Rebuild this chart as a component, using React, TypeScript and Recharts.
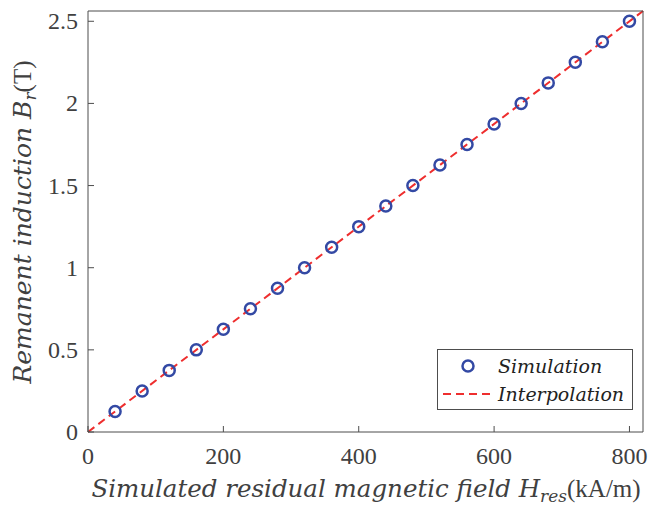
import { ComposedChart, Scatter, Line, XAxis, YAxis } from "recharts";

const simField = [40, 80, 120, 160, 200, 240, 280, 320, 360, 400, 440, 480, 520, 560, 600, 640, 680, 720, 760, 800];
const simInduction = [0.125, 0.25, 0.375, 0.5, 0.625, 0.75, 0.875, 1.0, 1.125, 1.25, 1.375, 1.5, 1.625, 1.75, 1.875, 2.0, 2.125, 2.25, 2.375, 2.5];
const fitField = [0, 820];
const fitInduction = [0, 2.5625];
const xTicks = [0, 200, 400, 600, 800];
const yTicks = [0, 0.5, 1, 1.5, 2, 2.5];

const simData = simField.map((x, i) => ({ x, y: simInduction[i] }));
const fitData = fitField.map((x, i) => ({ x, y: fitInduction[i] }));

const AXIS = "#4d4d4d";
const TEXT = "#404040";
const BLUE = "#3349a4";
const RED = "#ee2e2e";
const UPRIGHT = "Liberation Serif";
const ITALIC = "DejaVu Serif";

const BottomTick = ({ x, y, payload }: any) => (
    <g>
        <line x1={x} x2={x} y1={y - 10} y2={y - 16} stroke={AXIS} />
        <text x={x} y={y + 22} textAnchor="middle" fontSize={24} fill={TEXT} style={{ fontFamily: UPRIGHT }}>
            {payload.value}
        </text>
    </g>
);

const TopTick = ({ x, y }: any) => <line x1={x} x2={x} y1={y + 10} y2={y + 16} stroke={AXIS} />;

const LeftTick = ({ x, y, payload }: any) => (
    <g>
        <line x1={x + 10} x2={x + 16} y1={y} y2={y} stroke={AXIS} />
        <text x={x} y={y + 8} textAnchor="end" fontSize={24} fill={TEXT} style={{ fontFamily: UPRIGHT }}>
            {payload.value}
        </text>
    </g>
);

const RightTick = ({ x, y }: any) => <line x1={x - 10} x2={x - 16} y1={y} y2={y} stroke={AXIS} />;

const LegendBox = () => (
    <div
        style={{
            position: "absolute",
            left: 437,
            top: 349,
            width: 196,
            height: 61,
            border: `1px solid ${AXIS}`,
            background: "#fff",
            boxSizing: "border-box",
            fontFamily: ITALIC,
            fontStyle: "italic",
            fontSize: 19,
            color: "#222",
            paddingTop: 2,
        }}
    >
        <div style={{ display: "flex", alignItems: "center", height: 28 }}>
            <svg width={60} height={20}>
                <circle cx={30} cy={10} r={5.5} fill="none" stroke={BLUE} strokeWidth={2.5} />
            </svg>
            <span>Simulation</span>
        </div>
        <div style={{ display: "flex", alignItems: "center", height: 28 }}>
            <svg width={60} height={20}>
                <line x1={5} x2={56} y1={10} y2={10} stroke={RED} strokeWidth={2} strokeDasharray="8 5" />
            </svg>
            <span>Interpolation</span>
        </div>
    </div>
);

export default function App() {
    return (
        <div style={{ position: "absolute", left: 0, top: 0, width: 650, height: 509, background: "#fff" }}>
            <ComposedChart width={650} height={509} margin={{ top: 10, right: 6, bottom: 0, left: 0 }}>
                <XAxis
                    xAxisId="b"
                    dataKey="x"
                    type="number"
                    domain={[0, 818]}
                    ticks={xTicks}
                    height={77}
                    stroke={AXIS}
                    tickLine={false}
                    tickSize={0}
                    tickMargin={10}
                    tick={<BottomTick />}
                    label={{
                        content: () => (
                            <text x={366} y={497} textAnchor="middle" fontSize={24.5} fill={TEXT} style={{ fontFamily: ITALIC }}>
                                <tspan fontStyle="italic">Simulated residual magnetic field H</tspan>
                                <tspan fontStyle="italic" fontSize={17} dy={5}>res</tspan>
                                <tspan dy={-5} fontSize={25} style={{ fontFamily: UPRIGHT }}>(kA/m)</tspan>
                            </text>
                        ),
                    }}
                />
                <XAxis
                    xAxisId="t"
                    orientation="top"
                    dataKey="x"
                    type="number"
                    domain={[0, 818]}
                    ticks={xTicks}
                    height={1}
                    stroke={AXIS}
                    tickLine={false}
                    tickSize={0}
                    tickMargin={10}
                    tick={<TopTick />}
                />
                <YAxis
                    yAxisId="l"
                    type="number"
                    domain={[0, 2.55]}
                    ticks={yTicks}
                    width={88}
                    stroke={AXIS}
                    tickLine={false}
                    tickSize={0}
                    tickMargin={10}
                    tick={<LeftTick />}
                    label={{
                        content: () => (
                            <text
                                x={0}
                                y={0}
                                transform="translate(31 222) rotate(-90)"
                                textAnchor="middle"
                                fontSize={25}
                                fill={TEXT}
                                style={{ fontFamily: ITALIC }}
                            >
                                <tspan fontStyle="italic">Remanent induction B</tspan>
                                <tspan fontStyle="italic" fontSize={17} dy={5}>r</tspan>
                                <tspan dy={-5} fontSize={25} style={{ fontFamily: UPRIGHT }}>(T)</tspan>
                            </text>
                        ),
                    }}
                />
                <YAxis
                    yAxisId="r"
                    orientation="right"
                    type="number"
                    domain={[0, 2.55]}
                    ticks={yTicks}
                    width={1}
                    stroke={AXIS}
                    tickLine={false}
                    tickSize={0}
                    tickMargin={10}
                    tick={<RightTick />}
                />
                <Scatter
                    xAxisId="b"
                    yAxisId="l"
                    data={simData}
                    dataKey="y"
                    isAnimationActive={false}
                    shape={(p: any) => (
                        <circle cx={p.cx} cy={p.cy} r={5.5} fill="none" stroke={BLUE} strokeWidth={2.5} />
                    )}
                />
                <Line
                    xAxisId="b"
                    yAxisId="l"
                    data={fitData}
                    dataKey="y"
                    type="linear"
                    stroke={RED}
                    strokeWidth={2}
                    strokeDasharray="8 5"
                    dot={false}
                    activeDot={false}
                    isAnimationActive={false}
                />
            </ComposedChart>
            <LegendBox />
        </div>
    );
}
